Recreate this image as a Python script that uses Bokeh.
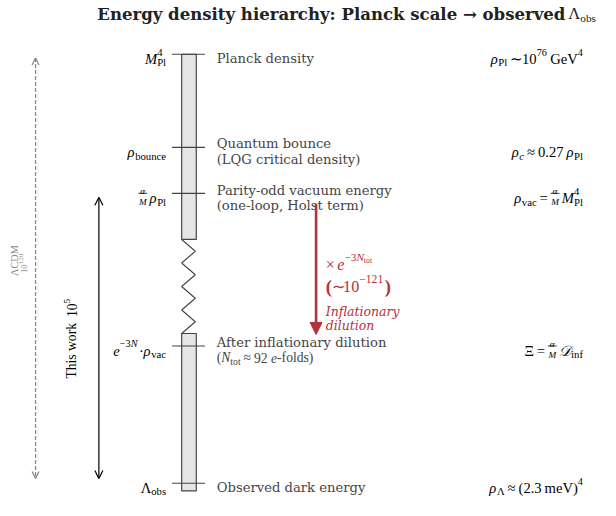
import numpy as np
from bokeh.plotting import figure
from bokeh.models import ColumnDataSource, Range1d, Arrow, OpenHead, NormalHead
from bokeh.embed import file_html
from bokeh.resources import INLINE
from bokeh.core.properties import field

# ---------------- data (schematic diagram) ----------------
level_keys = ["planck", "bounce", "vacuum", "diluted", "observed"]
level_pos = [56, 153, 201, 360, 503]          # schematic vertical positions (top -> bottom)
desc_lines = [["Planck density"],
              ["Quantum bounce", "(LQG critical density)"],
              ["Parity-odd vacuum energy", "(one-loop, Holst term)"],
              ["After inflationary dilution"],
              ["Observed dark energy"]]
bar_break = [249, 347]        # schematic break (zig-zag) in the column
bar_end = 511
lcdm_label = ["ΛCDM", "10", "120"]
this_work_label = ["This work", "10", "5"]
red_note = ["Inflationary", "dilution"]
title_text = "Energy density hierarchy: Planck scale → observed"

# ---------------- page geometry ----------------
W, H = 600, 500
RW, RH = 616, 521
S = W / RW
MATH = "Liberation Serif"
SERIF = "DejaVu Serif"
RED = "#b3323b"
GRAY_TXT = "#444444"

REG = {' ': 250, '(': 333, ')': 333, ',': 250, '-': 333, '.': 250, '=': 564, '~': 541, '∼': 541,
       '≈': 549, '·': 250, '−': 564, '×': 564, 'Λ': 722, 'Ξ': 650, 'A': 722, 'C': 667, 'D': 722,
       'G': 722, 'M': 889, 'N': 722, 'P': 556, 'T': 611, 'V': 722, 'a': 444, 'b': 500, 'c': 444,
       'd': 500, 'e': 444, 'f': 333, 'g': 500, 'h': 500, 'i': 278, 'k': 500, 'l': 278, 'm': 778,
       'n': 500, 'o': 500, 'p': 500, 'r': 333, 's': 389, 't': 278, 'u': 500, 'v': 500, 'w': 722,
       'x': 500, 'y': 500}
for d in "0123456789":
    REG[d] = 500
IT = {'ρ': 520, 'α': 540, 'e': 444, 'N': 667, 'M': 833, 'c': 444, 'D': 722, '𝒟': 820}

MS, SB, SU = 15, 11, 10.5     # math main / subscript / superscript sizes


def tw(s, size, it=False):
    tot = 0
    for ch in s:
        if it and ch in IT:
            tot += IT[ch]
        else:
            tot += REG.get(ch, 520)
    return tot * size / 1000.0


def T(s, size=MS, dy=0, it=False, bold=False):
    return ("t", s, size, dy, it, bold)


def SP(w):
    return ("sp", w)


def SS(sup, sub, size=SB):
    return ("ss", sup, sub, size)


def FR(num, den, size=9.5):
    return ("fr", num, den, size)


def rw(r):
    k = r[0]
    if k == "t":
        return tw(r[1], r[2], r[4])
    if k == "sp":
        return r[1]
    if k == "ss":
        return max(tw(r[1], r[3]), tw(r[2], r[3]))
    if k == "fr":
        return max(tw(r[1], r[3], True), tw(r[2], r[3], True)) + 1.0
    return 0


txt = dict(x=[], y=[], text=[], size=[], style=[], font=[], color=[])
fbar = dict(x0=[], y0=[], x1=[], y1=[], color=[])


def put(x, y, s, size, style="normal", font=MATH, color="black"):
    txt["x"].append(x)
    txt["y"].append(y)
    txt["text"].append(s)
    txt["size"].append(f"{size * S:.2f}px")
    txt["style"].append(style)
    txt["font"].append(font)
    txt["color"].append(color)


def draw(runs, x, yb, align="left", color="black"):
    total = sum(rw(r) for r in runs)
    cx = x - total if align == "right" else x
    for r in runs:
        k = r[0]
        w = rw(r)
        if k == "t":
            _, s, size, dy, it, bold = r
            style = ("bold " if bold else "") + ("italic" if it else "")
            style = style.strip() or "normal"
            put(cx, yb + dy, s, size, style, MATH, color)
        elif k == "ss":
            _, sp_, sb_, size = r
            put(cx, yb - 7, sp_, size, "normal", MATH, color)
            put(cx, yb + 3.8, sb_, size, "normal", MATH, color)
        elif k == "fr":
            _, num, den, size = r
            put(cx + (w - tw(num, size, True)) / 2, yb - 7.2, num, size, "italic", MATH, color)
            put(cx + (w - tw(den, size, True)) / 2, yb + 4.2, den, size, "italic", MATH, color)
            fbar["x0"].append(cx)
            fbar["x1"].append(cx + w)
            fbar["y0"].append(yb - 4.9)
            fbar["y1"].append(yb - 4.9)
            fbar["color"].append(color)
        cx += w


sub = lambda s, it=False: T(s, SB, 3.8, it)
sup = lambda s, it=False: T(s, SU, -7, it)

left_labels = [
    [T("M", it=True), SS("4", "Pl")],
    [T("ρ", it=True), sub("bounce")],
    [FR("α", "M"), SP(2.5), T("ρ", it=True), sub("Pl")],
    [T("e", it=True), sup("−3"), sup("N", True), SP(1.5), T("·"), SP(1), T("ρ", it=True), sub("vac")],
    [T("Λ"), sub("obs")],
]
right_labels = [
    [T("ρ", it=True), sub("Pl"), SP(3), T("∼"), SP(4), T("10"), sup("76"), SP(3.5), T("GeV"), sup("4")],
    [T("ρ", it=True), sub("c", True), SP(3), T("≈"), SP(3), T("0.27"), SP(3), T("ρ", it=True), sub("Pl")],
    [T("ρ", it=True), sub("vac"), SP(3), T("="), SP(3), FR("α", "M"), SP(2.5), T("M", it=True), SS("4", "Pl")],
    [T("Ξ"), SP(3), T("="), SP(3), FR("α", "M"), SP(2.5), T("𝒟", it=True), sub("inf")],
    [T("ρ", it=True), sub("Λ"), SP(3), T("≈"), SP(3), T("(2.3"), SP(3), T("meV)"), sup("4")],
]

LEFT_X, DESC_X, RIGHT_X = 170, 222, 598

for yv, runs in zip(level_pos, left_labels):
    draw(runs, LEFT_X, yv + 4.8, "right")
for yv, runs in zip(level_pos, right_labels):
    draw(runs, RIGHT_X, yv + 4.8, "right")

# descriptions
for i, (yv, lines) in enumerate(zip(level_pos, desc_lines)):
    if level_keys[i] == "diluted":
        put(DESC_X, yv - 8 + 4.5, lines[0], 13.5, "normal", SERIF, GRAY_TXT)
        draw([T("(", 14), T("N", 14, it=True), T("tot", 10, 3.5), SP(3), T("≈", 14), SP(3), T("92", 14), SP(3.5),
              T("e", 14, it=True), T("-folds)", 14)], DESC_X, yv + 8 + 4.5, "left", GRAY_TXT)
    elif len(lines) == 1:
        put(DESC_X, yv + 4.5, lines[0], 13.5, "normal", SERIF, GRAY_TXT)
    else:
        put(DESC_X, yv - 8 + 4.5, lines[0], 13.5, "normal", SERIF, GRAY_TXT)
        put(DESC_X, yv + 8 + 4.5, lines[1], 13.5, "normal", SERIF, GRAY_TXT)

# red annotation
RX = 334
draw([T("×", 16.5), SP(2.5), T("e", 16.5, it=True), T("−3", 11.5, -7.5), T("N", 11.5, -7.5, True), T("tot", 8, -4.5)],
     RX, 275, "left", RED)
draw([T("(", 19, 0.8, bold=True), T("∼", 16.5), SP(2.5), T("10", 16.5), T("−121", 12, -7.5), SP(1.5),
      T(")", 19, 0.8, bold=True)], RX, 297.5, "left", RED)
put(RX, 324.5, red_note[0], 12.8, "italic", SERIF, RED)
put(RX, 338.5, red_note[1], 12.8, "italic", SERIF, RED)

# title math part
TITLE_Y = 14
TITLE_END = 580
draw([T("Λ", 17), T("obs", 11.5, 4)], TITLE_END + 3, TITLE_Y, "left", "#222222")

# ---------------- figure ----------------
p = figure(width=W, height=H, x_range=Range1d(0, RW), y_range=Range1d(RH, 0),
           output_backend="svg", toolbar_location=None, min_border=0)
p.axis.visible = False
p.grid.visible = False
p.outline_line_color = None
p.background_fill_color = "white"
p.border_fill_color = "white"

# column (bar) segments
top, bottom = level_pos[0], bar_end
p.quad(left=[186, 186], right=[201, 201], top=[top, bar_break[1]], bottom=[bar_break[0], bottom],
       fill_color="#e6e6e6", line_color="#444444", line_width=1.2)

# zig-zag break
n_seg = 8
zy = np.linspace(bar_break[0], bar_break[1], n_seg + 1)
zx = [186 if i % 2 == 0 else 200 for i in range(n_seg + 1)]
p.line(zx, zy, line_color="#444444", line_width=1.1)

# level ticks
p.segment(x0=[176] * len(level_pos), x1=[210] * len(level_pos), y0=level_pos, y1=level_pos,
          line_color="#444444", line_width=1.2)

# fraction bars
p.segment(x0="x0", y0="y0", x1="x1", y1="y1", line_color="color", line_width=0.8,
          source=ColumnDataSource(fbar))

# arrows
p.add_layout(Arrow(x_start=36, y_start=level_pos[0] + 4, x_end=36, y_end=level_pos[4] - 5,
                   line_color="#888888", line_width=1.3, line_dash="4 2",
                   start=OpenHead(size=7, line_color="#888888", line_width=1.3),
                   end=OpenHead(size=7, line_color="#888888", line_width=1.3)))
p.add_layout(Arrow(x_start=101, y_start=level_pos[2] + 4, x_end=101, y_end=level_pos[4] - 5,
                   line_color="black", line_width=1.2,
                   start=OpenHead(size=8, line_color="black", line_width=1.2),
                   end=OpenHead(size=8, line_color="black", line_width=1.2)))
p.add_layout(Arrow(x_start=324, y_start=level_pos[2] + 11, x_end=324, y_end=level_pos[3] - 12,
                   line_color=RED, line_width=2.6,
                   end=NormalHead(size=12, fill_color=RED, line_color=RED, line_width=1)))

# all horizontal texts
p.text(x="x", y="y", text="text", source=ColumnDataSource(txt),
       text_font=field("font"), text_font_size=field("size"), text_font_style=field("style"),
       text_color=field("color"), text_align="left", text_baseline="alphabetic")

# title (right-anchored before the math symbol)
tsrc = ColumnDataSource(dict(x=[TITLE_END], y=[TITLE_Y], text=[title_text], f=[SERIF]))
p.text(x="x", y="y", text="text", source=tsrc, text_font=field("f"), text_align="right",
       text_baseline="alphabetic", text_font_size=f"{17.0 * S:.2f}px", text_font_style="bold",
       text_color="#222222")

# rotated labels (reading bottom -> top); y decreases along the text direction
LC_START = 287
TW_START = 394
rot = dict(x=[], y=[], text=[], size=[], color=[], f=[])


def rput(x, y, s, size, color):
    rot["x"].append(x)
    rot["y"].append(y)
    rot["text"].append(s)
    rot["size"].append(f"{size * S:.2f}px")
    rot["color"].append(color)
    rot["f"].append(MATH)


rput(14.5, LC_START, lcdm_label[0], 10.5, "#888888")
rput(24.5, LC_START - 3, lcdm_label[1], 9, "#888888")
rput(21.0, LC_START - 3 - tw("10", 9) - 0.5, lcdm_label[2], 7, "#888888")
tw_work = tw(this_work_label[0], 14)
rput(73, TW_START, this_work_label[0], 14, "black")
rput(73, TW_START - tw_work - 7, this_work_label[1], 14, "black")
rput(68.5, TW_START - tw_work - 7 - tw("10", 14), this_work_label[2], 9.5, "black")

p.text(x="x", y="y", text="text", source=ColumnDataSource(rot), angle=np.pi / 2, text_font=field("f"),
       text_font_size=field("size"), text_color=field("color"), text_align="left",
       text_baseline="alphabetic")

open("out.html", "w").write(file_html(p, INLINE))
